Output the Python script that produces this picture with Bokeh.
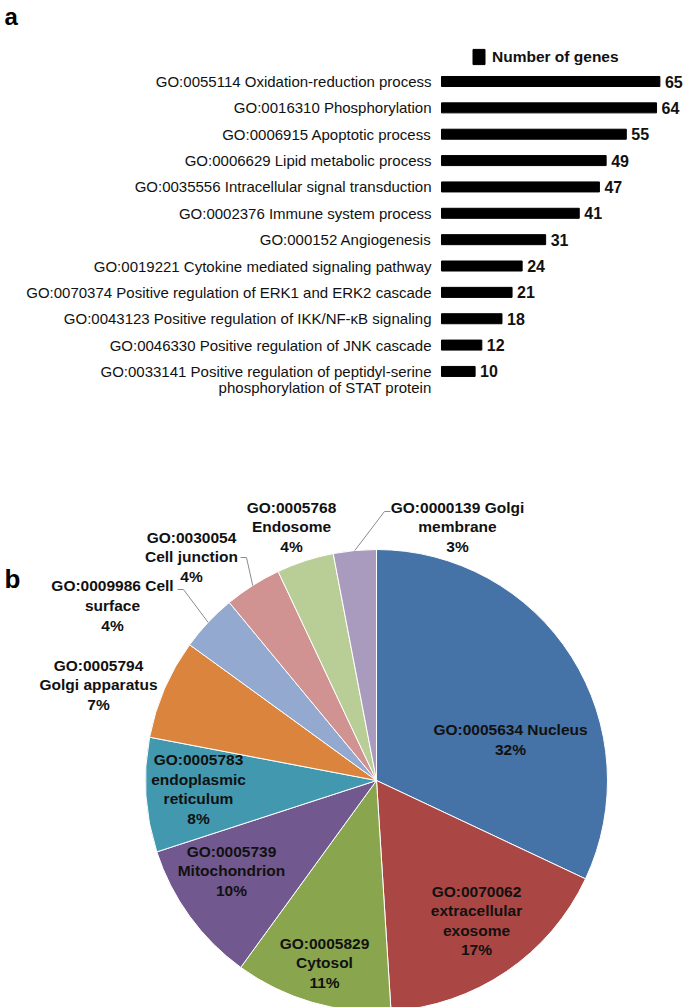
import numpy as np
from bokeh.plotting import figure
from bokeh.layouts import column
from bokeh.models import Range1d, ColumnDataSource, Legend, LegendItem
from bokeh.core.properties import value
from bokeh.embed import file_html
from bokeh.resources import INLINE

# ---------------- data: panel a (biological process) ----------------
go_terms = [
    "GO:0055114 Oxidation-reduction process",
    "GO:0016310 Phosphorylation",
    "GO:0006915 Apoptotic process",
    "GO:0006629 Lipid metabolic process",
    "GO:0035556 Intracellular signal transduction",
    "GO:0002376 Immune system process",
    "GO:000152 Angiogenesis",
    "GO:0019221 Cytokine mediated signaling pathway",
    "GO:0070374 Positive regulation of ERK1 and ERK2 cascade",
    "GO:0043123 Positive regulation of IKK/NF-\u03baB signaling",
    "GO:0046330 Positive regulation of JNK cascade",
    "GO:0033141 Positive regulation of peptidyl-serine\nphosphorylation of STAT protein",
]
gene_counts = [65, 64, 55, 49, 47, 41, 31, 24, 21, 18, 12, 10]
legend_label = "Number of genes"

# ---------------- data: panel b (cellular component) ----------------
cc_terms = [
    "GO:0005634 Nucleus",
    "GO:0070062\nextracellular\nexosome",
    "GO:0005829\nCytosol",
    "GO:0005739\nMitochondrion",
    "GO:0005783\nendoplasmic\nreticulum",
    "GO:0005794\nGolgi apparatus",
    "GO:0009986 Cell\nsurface",
    "GO:0030054\nCell junction",
    "GO:0005768\nEndosome",
    "GO:0000139 Golgi\nmembrane",
]
cc_percent = [32, 17, 11, 10, 8, 7, 4, 4, 4, 3]
cc_colors = ["#4572A7", "#AA4643", "#89A54E", "#71588F", "#4198AF",
             "#DB843D", "#93A9CF", "#D19392", "#B9CD96", "#A99BBD"]

# ---------------- styles / layout ----------------
SANS_S = "Liberation Sans, Arial, sans-serif"
SANS = value(SANS_S)
TXT = "#111111"

W = 685
H1 = 444
H2 = 563

ROW = 26.36     # px per bar row
X0PX = 441      # pixel position of value 0
PXU = 3.36      # pixels per gene
x_start = -X0PX / PXU
x_end = x_start + W / PXU
ROW0PX = 81     # pixel position (from top) of the first row centre
y_top = -ROW0PX / ROW
y_bot = y_top + H1 / ROW

# ---------------- panel a ----------------
p1 = figure(width=W, height=H1, x_range=Range1d(x_start, x_end),
            y_range=Range1d(y_bot, y_top), output_backend="svg",
            toolbar_location=None, x_axis_location=None, y_axis_location=None,
            min_border=0)
p1.grid.visible = False
p1.outline_line_color = None
p1.background_fill_color = "white"
p1.border_fill_color = "white"

rows = list(range(len(go_terms)))
first_lines = [t.split("\n")[0] for t in go_terms]
src = ColumnDataSource(dict(y=rows, v=gene_counts, lab=first_lines,
                            vtxt=[str(v) for v in gene_counts]))
bars = p1.hbar(y="y", left=0, right="v", height=0.38, source=src,
               fill_color="black", line_color="black")
p1.text(x=0, y="y", text="lab", source=src, x_offset=-10, text_align="right",
        text_baseline="middle", text_font=SANS, text_font_size="15px",
        text_color=TXT)
cont_y = [i for i, t in enumerate(go_terms) if "\n" in t]
cont_t = [t.split("\n", 1)[1] for t in go_terms if "\n" in t]
p1.text(x=[0] * len(cont_y), y=cont_y, text=cont_t, x_offset=-10, y_offset=16,
        text_align="right", text_baseline="middle", text_font=SANS,
        text_font_size="15px", text_color=TXT)
p1.text(x="v", y="y", text="vtxt", source=src, x_offset=5, text_align="left",
        text_baseline="middle", text_font=SANS, text_font_size="16px",
        text_font_style="bold", text_color=TXT)

leg = Legend(items=[LegendItem(label=legend_label, renderers=[bars])],
             location=(471, 378), glyph_width=15, glyph_height=19,
             label_height=19, label_standoff=6, padding=0, margin=0, spacing=0,
             border_line_alpha=0, background_fill_alpha=0,
             label_text_font=SANS_S, label_text_font_size="15.5px",
             label_text_font_style="bold", label_text_color=TXT)
p1.add_layout(leg)

p1.text(x=[x_start + 4 / PXU], y=[y_top + 16 / ROW], text=["a"],
        text_align="left", text_baseline="middle", text_font=SANS,
        text_font_size="24px", text_font_style="bold", text_color="black")

# ---------------- panel b ----------------
CX, CY = 376, 336      # pie centre in figure pixels (from left, from top)
R = 231
p2 = figure(width=W, height=H2, x_range=Range1d(-CX, W - CX),
            y_range=Range1d(-(H2 - CY), CY), output_backend="svg",
            toolbar_location=None, x_axis_location=None, y_axis_location=None,
            min_border=0)
p2.grid.visible = False
p2.outline_line_color = None
p2.background_fill_color = "white"
p2.border_fill_color = "white"

frac = np.array(cc_percent, dtype=float) / sum(cc_percent)
cum = np.concatenate([[0.0], np.cumsum(frac)]) * 2 * np.pi
start = np.pi / 2 - cum[:-1]
end = np.pi / 2 - cum[1:]
p2.wedge(x=0, y=0, radius=R, start_angle=start, end_angle=end,
         direction="clock", fill_color=cc_colors, line_color="white",
         line_width=1)

label_pos = [(134, 41), (100, -140), (-52, -182.5), (-145, -90.5),
             (-178, -8.5), (-278, 95.5), (-264, 175), (-185, 223.5),
             (-85, 253.5), (81, 253.5)]
labels = [f"{t}\n{p}%" for t, p in zip(cc_terms, cc_percent)]
p2.text(x=[q[0] for q in label_pos], y=[q[1] for q in label_pos], text=labels,
        text_align="center", text_baseline="middle", text_font=SANS,
        text_font_size="15.5px", text_font_style="bold", text_color=TXT,
        text_line_height=1.15)

# leader lines: label end point and stub direction
leaders = {6: ((-199, 191), 6), 7: ((-136, 223), 6), 9: ((14, 269), -6)}
xs, ys = [], []
mid = (cum[:-1] + cum[1:]) / 2
for i, ((lx, ly), stub) in leaders.items():
    ex, ey = R * np.sin(mid[i]), R * np.cos(mid[i])
    xs.append([lx, lx + stub, ex])
    ys.append([ly, ly, ey])
p2.multi_line(xs, ys, line_color="#8c8c8c", line_width=1)

p2.text(x=[-CX + 4], y=[202], text=["b"], text_align="left",
        text_baseline="middle", text_font=SANS, text_font_size="26px",
        text_font_style="bold", text_color="black")

layout = column(p1, p2, spacing=0)
open("out.html", "w").write(file_html(layout, INLINE))
